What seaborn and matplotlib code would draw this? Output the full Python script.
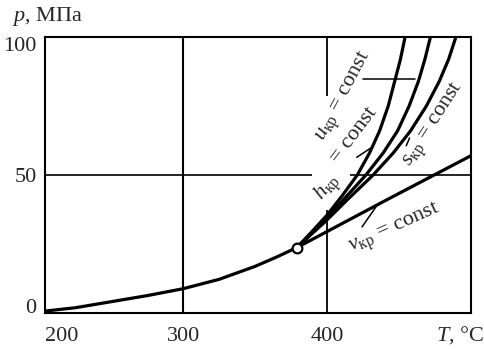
import pandas as pd
import matplotlib.pyplot as plt
import seaborn as sns

# линия насыщения до критической точки (T, °C ; p, МПа)
sat_T = [204, 225, 250, 275, 300, 325, 350, 365, 379]
sat_p = [0.7, 1.9, 4.1, 6.3, 8.8, 12.2, 16.9, 20.3, 23.7]

# изолинии за критической точкой
u_T = [379, 389.5, 400, 410.5, 421, 429.5, 436.5, 442.5, 447, 451, 454.2]
u_p = [23.7, 29.5, 35.5, 42.5, 50, 58, 66, 75, 84, 92, 100]
h_T = [379, 389.5, 399.5, 413, 427, 439, 449, 457, 463.5, 468, 471.8]
h_p = [23.7, 29, 34.3, 42, 50, 58, 66, 75, 84, 92, 100]
s_T = [379, 389, 398.5, 415, 432, 446, 458, 469, 478, 484.5, 489.5]
s_p = [23.7, 28.5, 33, 41.5, 50, 58, 66, 75, 84, 92, 100]
v_T = [379, 440, 500]
v_p = [23.7, 40.6, 57]

crit_T, crit_p = 379, 23.7

x_ticks = [204, 300, 400]
x_tick_labels = ['200', '300', '400']
y_ticks = [0, 50, 100]

sns.set_style('white')
plt.rcParams['font.family'] = ['Liberation Serif', 'DejaVu Serif']
plt.rcParams['mathtext.fontset'] = 'custom'
plt.rcParams['mathtext.rm'] = 'Liberation Serif'
plt.rcParams['mathtext.it'] = 'Liberation Serif:italic'

fig = plt.figure(figsize=(4.84, 3.49), dpi=100)
ax = fig.add_axes([45 / 484, 36 / 349, 426 / 484, 276 / 349])

# сетка (с разрывами под подписи)
ax.vlines(300, 0, 100, color='black', lw=1.5)
ax.vlines(400, 0, 37.2, color='black', lw=1.3)
ax.vlines(400, 78.7, 100, color='black', lw=1.3)
ax.hlines(50, 204, 389.6, color='black', lw=1.2)
ax.hlines(50, 415.6, 500, color='black', lw=1.2)

curves = [(sat_T, sat_p), (u_T, u_p), (h_T, h_p), (s_T, s_p), (v_T, v_p)]
for T, p in curves:
    df = pd.DataFrame({'T': T, 'p': p})
    sns.lineplot(data=df, x='T', y='p', sort=False, color='black', lw=2.3, ax=ax)

# выноски
ax.plot([425, 461.1], [84.8, 84.8], color='black', lw=1.1)
ax.plot([420.6, 431], [56.4, 60], color='black', lw=1.1)
ax.plot([455, 457.3], [60.6, 63.4], color='black', lw=1.1)
ax.plot([424.3, 434.7], [31.2, 39], color='black', lw=1.1)

ax.plot(crit_T, crit_p, 'o', ms=7, mfc='white', mec='black', mew=1.6, zorder=5)

fs = 16
ax.text(412.2, 78.5, r'$u_{\mathrm{кр}}$ = const', rotation=62, fontsize=fs,
        ha='center', va='center', rotation_mode='anchor')
ax.text(400.7, 45.3, r'$h_{\mathrm{кр}}$', rotation=50, fontsize=fs,
        ha='center', va='center', rotation_mode='anchor')
ax.text(418.5, 64.5, '= const', rotation=53, fontsize=fs,
        ha='center', va='center', rotation_mode='anchor')
ax.text(475.0, 68.0, r'$s_{\mathrm{кр}}$ = const', rotation=57, fontsize=fs,
        ha='center', va='center', rotation_mode='anchor')
ax.text(447.3, 30.2, r'$v_{\mathrm{кр}}$ = const', rotation=24, fontsize=fs,
        ha='center', va='center', rotation_mode='anchor')

ax.set_xlim(204, 500)
ax.set_ylim(0, 100)
ax.set_xticks(x_ticks, labels=x_tick_labels)
ax.set_yticks(y_ticks)
ax.set_xlabel('')
ax.set_ylabel('')
ax.tick_params(length=0, labelsize=fs, pad=10)
ax.tick_params(axis='y', pad=6)
ax.get_xticklabels()[0].set_ha('left')
ax.get_yticklabels()[0].set_va('baseline')
ax.get_yticklabels()[-1].set_va('top')
for sp in ax.spines.values():
    sp.set_color('black')
    sp.set_linewidth(1.5)

fig.text(12 / 484, 1 - 17 / 349, '$p$, МПа', fontsize=fs, va='center', ha='left')
fig.text(436 / 484, 1 - 335 / 349, '$T$, °C', fontsize=fs, va='center', ha='left')

fig.savefig('out.png', dpi=100)
